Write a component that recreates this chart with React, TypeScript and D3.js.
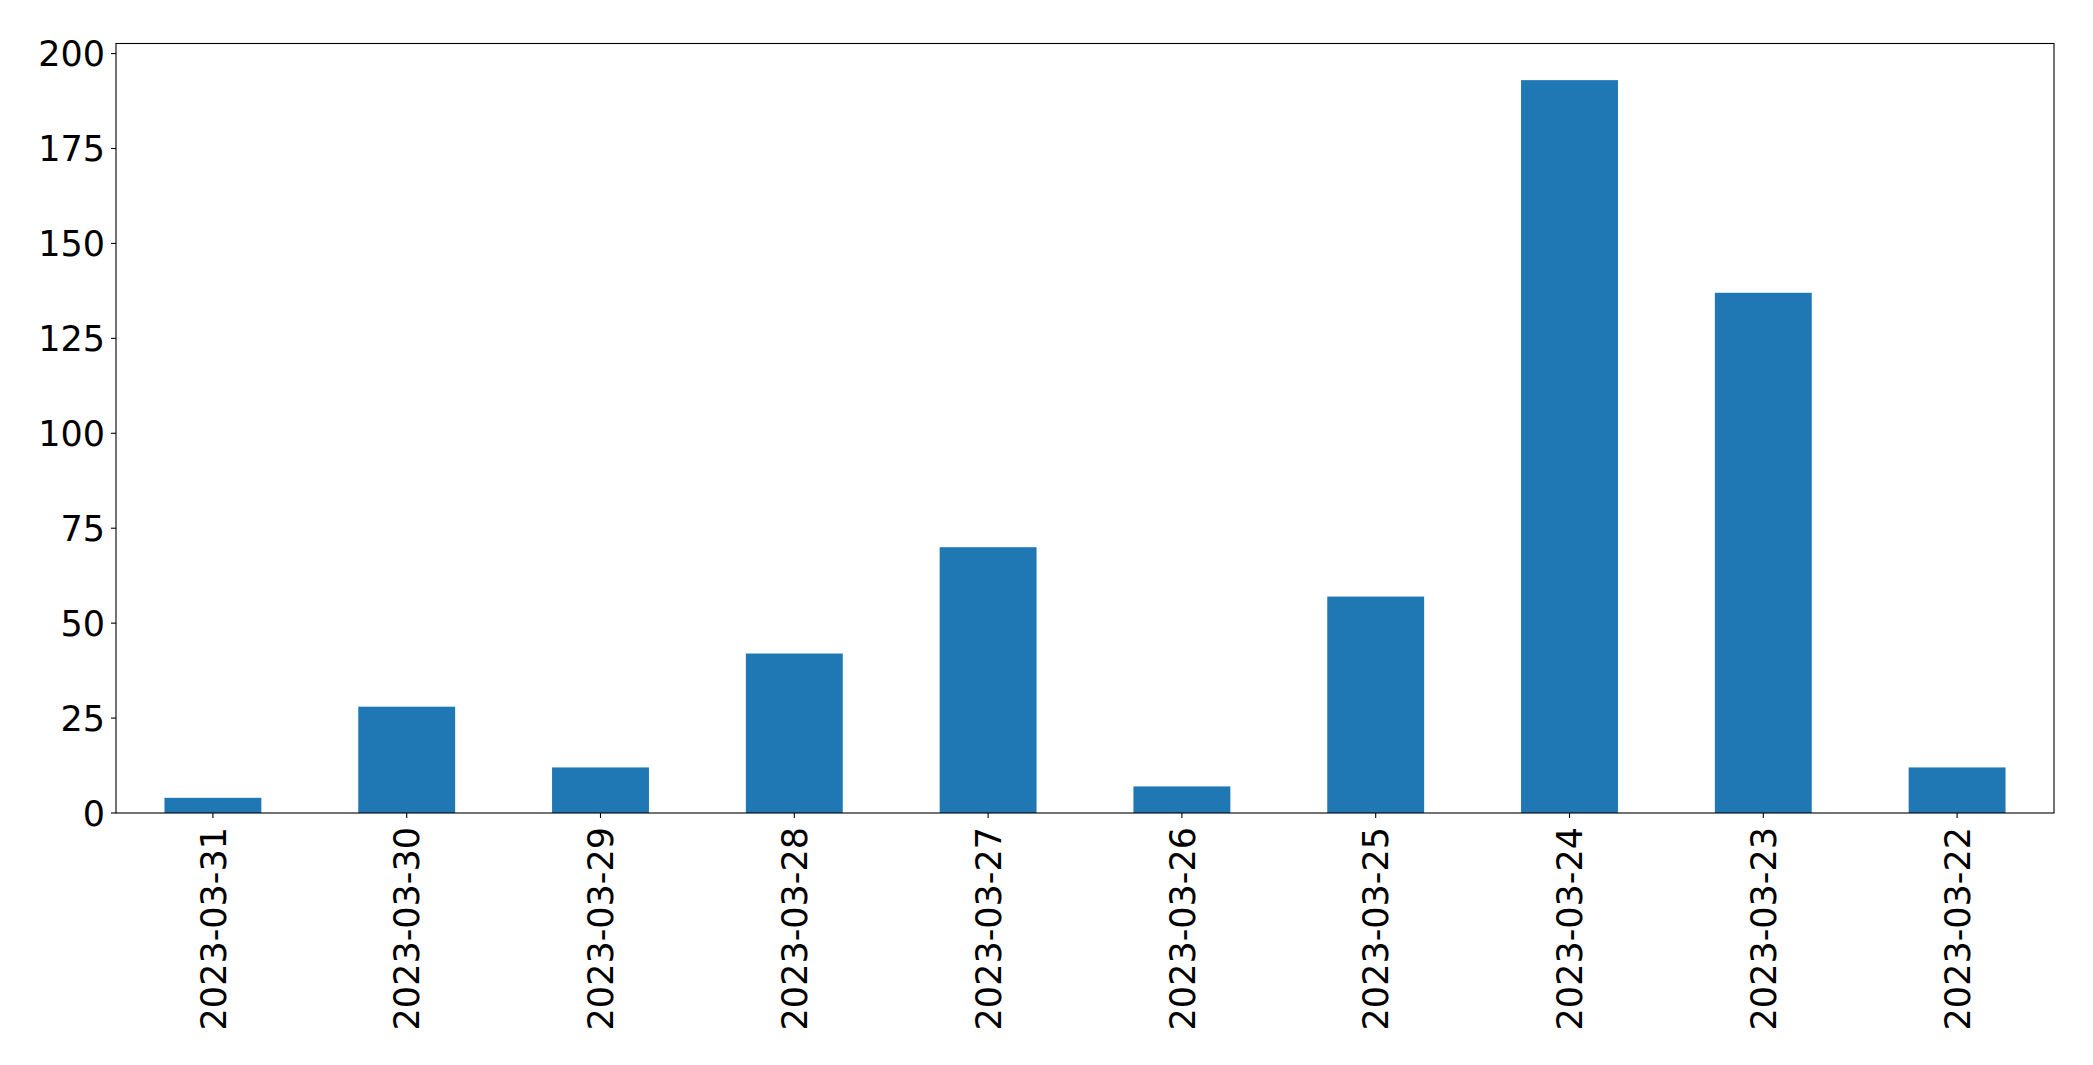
import React from "react";
import * as d3 from "d3";

const categories = ["2023-03-31", "2023-03-30", "2023-03-29", "2023-03-28", "2023-03-27", "2023-03-26", "2023-03-25", "2023-03-24", "2023-03-23", "2023-03-22"];
const values = [4, 28, 12, 42, 70, 7, 57, 193, 137, 12];
const yTicks = [0, 25, 50, 75, 100, 125, 150, 175, 200];

const W = 2093;
const H = 1065;
const left = 116;
const right = 2054;
const top = 43.5;
const bottom = 813;
const FONT = "'DejaVu Sans', sans-serif";
const FS = 35;

export default function App() {
  const x = d3.scaleBand<string>().domain(categories).range([left, right]).paddingInner(0.5).paddingOuter(0.25);
  const yMax = d3.max(values)! * 1.05;
  const y = d3.scaleLinear().domain([0, yMax]).range([bottom, top]);
  return (
    <svg width={W} height={H} style={{ position: "absolute", left: 0, top: 0, background: "#fff" }} fontFamily={FONT}>
      <rect x={0} y={0} width={W} height={H} fill="#fff" />
      {values.map((v, i) => (
        <rect key={i} x={x(categories[i])!} y={y(v)} width={x.bandwidth()} height={bottom - y(v)} fill="#1f77b4" />
      ))}
      <rect x={left} y={top} width={right - left} height={bottom - top} fill="none" stroke="#000" strokeWidth={1.1} />
      {yTicks.map((t) => (
        <g key={t}>
          <line x1={left - 5} x2={left} y1={y(t)} y2={y(t)} stroke="#000" strokeWidth={1.1} />
          <text x={left - 11} y={y(t)} dy="0.36em" textAnchor="end" fontSize={FS} fill="#000">{t}</text>
        </g>
      ))}
      {categories.map((c) => {
        const cx = x(c)! + x.bandwidth() / 2;
        return (
          <g key={c}>
            <line x1={cx} x2={cx} y1={bottom} y2={bottom + 5} stroke="#000" strokeWidth={1.1} />
            <text transform={`translate(${cx},${bottom + 14}) rotate(-90)`} dy="0.36em" textAnchor="end" fontSize={FS} fill="#000">{c}</text>
          </g>
        );
      })}
    </svg>
  );
}
